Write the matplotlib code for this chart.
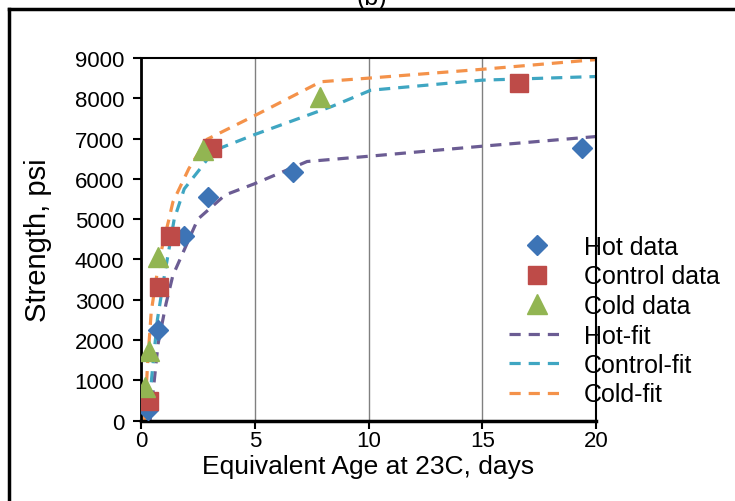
import numpy as np
import matplotlib
matplotlib.use("Agg")
import matplotlib.pyplot as plt
from matplotlib.lines import Line2D

plt.rcParams['font.family'] = ['Liberation Sans', 'DejaVu Sans']

# measured data
hot_x = [0.3, 0.73, 1.9, 2.94, 6.7, 19.4]
hot_y = [250, 2250, 4570, 5540, 6180, 6770]
control_x = [0.34, 0.81, 1.29, 3.12, 16.6]
control_y = [475, 3320, 4570, 6770, 8380]
cold_x = [0.19, 0.34, 0.73, 2.73, 7.87]
cold_y = [830, 1720, 4050, 6720, 8030]

# fitted curves
hotfit_x = [0.4, 0.75, 1.1, 1.4, 2.5, 3.7, 5.0, 7.3, 10.0, 15.0, 20.0]
hotfit_y = [0, 1900, 2900, 3600, 5000, 5600, 5880, 6430, 6560, 6810, 7050]
ctrlfit_x = [0.3, 0.5, 0.72, 1.0, 1.46, 1.9, 2.6, 3.2, 5.0, 8.4, 10.1, 15.0, 20.0]
ctrlfit_y = [0, 1250, 2500, 3500, 5000, 5750, 6250, 6700, 7100, 7800, 8200, 8450, 8540]
coldfit_x = [0.15, 0.3, 0.45, 0.8, 1.23, 1.4, 2.1, 2.9, 5.0, 7.9, 10.0, 15.0, 20.0]
coldfit_y = [0, 1500, 2700, 4000, 5000, 5420, 6250, 6980, 7570, 8410, 8500, 8720, 8960]

fig = plt.figure(figsize=(7.35, 5.02), dpi=100)
ax = fig.add_axes([141/735, 1-421.5/502, (596-141)/735, (421.5-59)/502])

tick_fs = 16
lab_fs = 19
leg_fs = 18

ax.plot(hot_x, hot_y, 'D', color='#3D74B6', ms=10.5, ls='none', label='Hot data', zorder=3)
ax.plot(control_x, control_y, 's', color='#BE4B48', ms=13, ls='none', label='Control data', zorder=3)
ax.plot(cold_x, cold_y, '^', color='#92B552', ms=14, ls='none', label='Cold data', zorder=3)
ax.plot(hotfit_x, hotfit_y, color='#6B5C93', lw=2.3, dashes=(3.5, 2.5), label='Hot-fit', zorder=2)
ax.plot(ctrlfit_x, ctrlfit_y, color='#3FA6C2', lw=2.3, dashes=(3.5, 2.5), label='Control-fit', zorder=2)
ax.plot(coldfit_x, coldfit_y, color='#F4924A', lw=2.3, dashes=(3.5, 2.5), label='Cold-fit', zorder=2)

ax.set_xlim(0, 20)
ax.set_ylim(0, 9000)
ax.set_xticks([0, 5, 10, 15, 20])
ax.set_yticks(range(0, 9001, 1000))
ax.xaxis.grid(True, color='#808080', lw=1)
ax.set_axisbelow(True)
ax.tick_params(direction='out', length=6, width=1.5, labelsize=tick_fs, pad=6)
ax.tick_params(axis='x', pad=1)
for s in ax.spines.values():
    s.set_linewidth(1.5)
ax.spines['bottom'].set_linewidth(2.5)
ax.spines['left'].set_linewidth(2)

ax.set_xlabel('Equivalent Age at 23C, days', fontsize=lab_fs, labelpad=2)
ax.set_ylabel('Strength, psi', fontsize=21, labelpad=16)

leg = ax.legend(loc='upper left', bbox_to_anchor=(509/735, 1-236/502),
                bbox_transform=fig.transFigure, frameon=False, fontsize=leg_fs,
                handlelength=2.2, handletextpad=0.8, labelspacing=0.22,
                borderpad=0, borderaxespad=0, numpoints=1)

# frame around the figure and the cut off title
fig.add_artist(Line2D([9/735, 9/735], [0, 1-10/502], transform=fig.transFigure, color='black', lw=2.5))
fig.add_artist(Line2D([9/735, 1], [1-10/502, 1-10/502], transform=fig.transFigure, color='black', lw=2.5))
fig.text(372/735, 1-5/502, '(b)', fontsize=leg_fs, ha='center', va='baseline')

fig.savefig('out.png', dpi=100)
